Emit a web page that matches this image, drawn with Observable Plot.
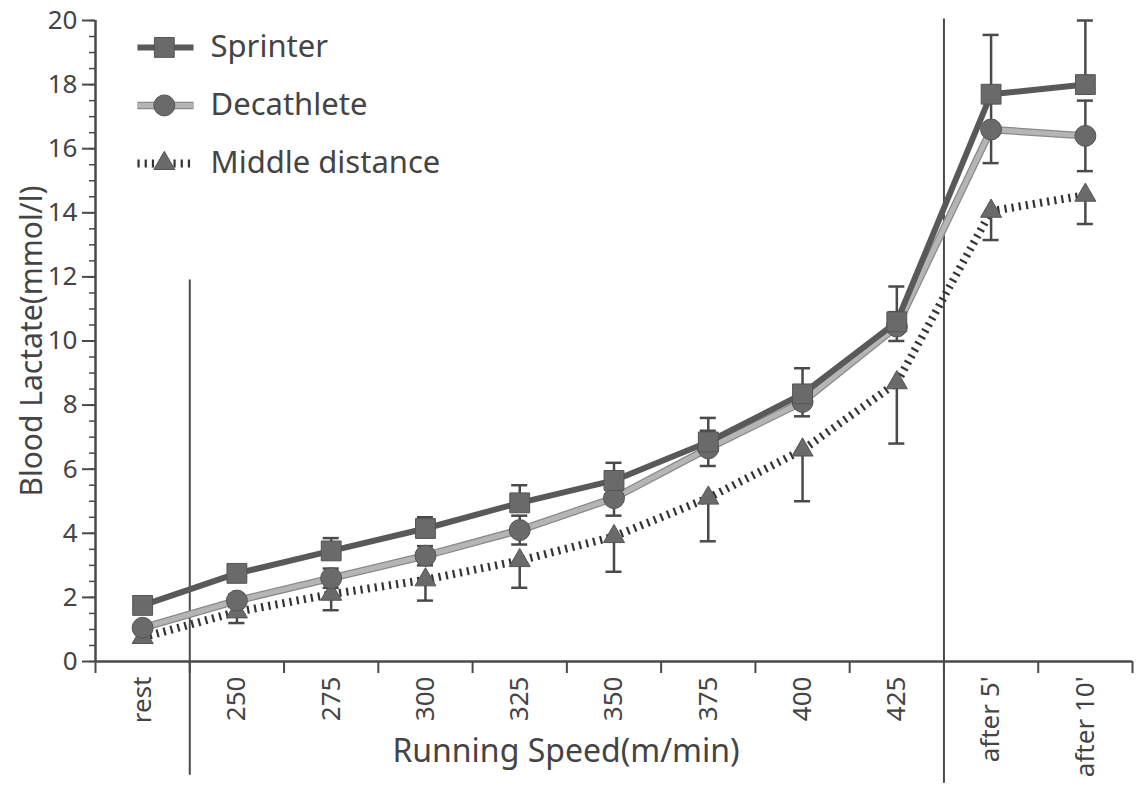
<!DOCTYPE html>
<html>
<head>
<meta charset="utf-8">
<script src="https://cdn.jsdelivr.net/npm/d3@7"></script>
<script src="https://cdn.jsdelivr.net/npm/@observablehq/plot@0.6"></script>
<style>
  html, body { margin: 0; padding: 0; background: #fff; }
  #chart svg { display: block; }
</style>
</head>
<body>
<div id="chart"></div>
<script>
// ---- data ----
const categories = ["rest", "250", "275", "300", "325", "350", "375", "400", "425", "after 5'", "after 10'"];
const sprinter     = [1.75, 2.75, 3.45, 4.15, 4.95, 5.65, 6.85, 8.35, 10.6, 17.7, 18.0];
const sprinterSD   = [0.1, 0.12, 0.4, 0.35, 0.55, 0.55, 0.75, 0.8, 1.1, 1.85, 2.0];
const decathlete   = [1.05, 1.9, 2.6, 3.3, 4.1, 5.1, 6.65, 8.1, 10.45, 16.6, 16.4];
const decathleteSD = [0.15, 0.2, 0.3, 0.3, 0.45, 0.55, 0.55, 0.45, 0.45, 1.05, 1.1];
const middle       = [0.75, 1.55, 2.1, 2.55, 3.15, 3.9, 5.1, 6.6, 8.7, 14.05, 14.55];
const middleSD     = [0.15, 0.35, 0.5, 0.65, 0.85, 1.1, 1.35, 1.6, 1.9, 0.9, 0.9];
const seriesNames  = ["Sprinter", "Decathlete", "Middle distance"];
const yMajorTicks  = d3.range(0, 21, 2);
const yMinorTicks  = d3.range(0, 20.01, 0.5);
const separatorsAfter = ["rest", "425"];

// ---- derived rows ----
const idx = categories.map((c, i) => i);
const rows = (vals, sd, name) => vals.map((v, i) => ({i, cat: categories[i], v, sd: sd[i], name}));
const sp = rows(sprinter, sprinterSD, "Sprinter");
const de = rows(decathlete, decathleteSD, "Decathlete");
const mi = rows(middle, middleSD, "Middle distance");
const boundaries = d3.range(-0.5, categories.length, 1);
const sepX = separatorsAfter.map(c => categories.indexOf(c) + 0.5);

const dark = "#595959";
const markFill = "#6a6a6a";
const axisColor = "#4a4a4a";
const textColor = "#444";
const font = "'Noto Sans', sans-serif";

// legend rows
const legend = seriesNames.map((name, k) => ({name, k, y: 19.16 - k * 1.81}));
const lx1 = -0.055, lx2 = 0.54, lmx = 0.23, ltx = 0.72;
const dashed = {stroke: "#333", strokeWidth: 8, strokeDasharray: "2.2,5", strokeLinecap: "butt", strokeLinejoin: "miter"};
const cap = 0.085;

const chart = Plot.plot({
  width: 1139,
  height: 786,
  marginLeft: 95,
  marginRight: 7,
  marginTop: 20,
  marginBottom: 125,
  style: {fontFamily: font, color: axisColor, background: "#fff"},
  x: {type: "linear", domain: [-0.5, categories.length - 0.5], axis: null},
  y: {domain: [0, 20], axis: null},
  marks: [
    // separators
    Plot.ruleX([sepX[0]], {y1: 11.9, y2: -3.55, stroke: axisColor, strokeWidth: 2}),
    Plot.ruleX([sepX[1]], {y1: 20.05, y2: -3.8, stroke: axisColor, strokeWidth: 2}),
    // axes
    Plot.ruleX([-0.5], {y1: 0, y2: 20, stroke: axisColor, strokeWidth: 2.5}),
    Plot.ruleY([0], {stroke: axisColor, strokeWidth: 2.5}),
    Plot.axisY(yMinorTicks, {tickSize: 6, tickFormat: () => "", stroke: axisColor, strokeWidth: 1.5, label: null}),
    Plot.axisY(yMajorTicks, {tickSize: 13, tickPadding: 5, fontSize: 26, stroke: axisColor, strokeWidth: 2, label: null, fill: textColor}),
    Plot.axisX(boundaries, {tickSize: 12, tickFormat: () => "", stroke: axisColor, strokeWidth: 2, label: null}),
    Plot.axisX(idx, {tickSize: 0, tickPadding: 15, tickRotate: -90, fontSize: 26, tickFormat: i => categories[i], label: null, fill: textColor}),
    Plot.text(["Running Speed(m/min)"], {frameAnchor: "bottom", textAnchor: "middle", lineAnchor: "middle", dx: -48, dy: 90, fontSize: 32, fill: textColor}),
    Plot.text(["Blood Lactate(mmol/l)"], {frameAnchor: "left", textAnchor: "middle", lineAnchor: "middle", dx: -63, rotate: -90, fontSize: 30, fill: textColor}),

    // lines
    Plot.line(mi, {x: "i", y: "v", ...dashed}),
    Plot.line(de, {x: "i", y: "v", stroke: "#8a8a8a", strokeWidth: 7.5}),
    Plot.line(de, {x: "i", y: "v", stroke: "url(#stipple)", strokeWidth: 5}),
    Plot.line(sp, {x: "i", y: "v", stroke: dark, strokeWidth: 6}),

    // error bars
    Plot.ruleX(mi, {x: "i", y1: "v", y2: d => d.v - d.sd, stroke: axisColor, strokeWidth: 2.5}),
    Plot.ruleY(mi, {y: d => d.v - d.sd, x1: d => d.i - cap, x2: d => d.i + cap, stroke: axisColor, strokeWidth: 2.5}),
    Plot.ruleX(de, {x: "i", y1: d => d.v - d.sd, y2: d => d.v + d.sd, stroke: axisColor, strokeWidth: 2.5}),
    Plot.ruleY(de, {y: d => d.v - d.sd, x1: d => d.i - cap, x2: d => d.i + cap, stroke: axisColor, strokeWidth: 2.5}),
    Plot.ruleY(de, {y: d => d.v + d.sd, x1: d => d.i - cap, x2: d => d.i + cap, stroke: axisColor, strokeWidth: 2.5}),
    Plot.ruleX(sp, {x: "i", y1: "v", y2: d => d.v + d.sd, stroke: axisColor, strokeWidth: 2.5}),
    Plot.ruleY(sp, {y: d => d.v + d.sd, x1: d => d.i - cap, x2: d => d.i + cap, stroke: axisColor, strokeWidth: 2.5}),

    // markers
    Plot.dot(mi, {x: "i", y: "v", symbol: "triangle", r: 7.8, fill: markFill, stroke: "#555", strokeWidth: 1}),
    Plot.dot(de, {x: "i", y: "v", symbol: "circle", r: 10.5, fill: markFill, stroke: "#555", strokeWidth: 1}),
    Plot.dot(sp, {x: "i", y: "v", symbol: "square", r: 11.2, fill: markFill, stroke: "#555", strokeWidth: 1}),

    // legend
    Plot.link(legend.filter(d => d.k === 0), {x1: lx1, x2: lx2, y1: "y", y2: "y", stroke: dark, strokeWidth: 6}),
    Plot.link(legend.filter(d => d.k === 1), {x1: lx1, x2: lx2, y1: "y", y2: "y", stroke: "#8a8a8a", strokeWidth: 7.5}),
    Plot.link(legend.filter(d => d.k === 1), {x1: lx1, x2: lx2, y1: "y", y2: "y", stroke: "url(#stipple)", strokeWidth: 5}),
    Plot.link(legend.filter(d => d.k === 2), {x1: lx1, x2: lx2 - 0.03, y1: "y", y2: "y", ...dashed}),
    Plot.dot(legend.filter(d => d.k === 0), {x: lmx, y: "y", symbol: "square", r: 11.2, fill: markFill, stroke: "#555", strokeWidth: 1}),
    Plot.dot(legend.filter(d => d.k === 1), {x: lmx, y: "y", symbol: "circle", r: 10.5, fill: markFill, stroke: "#555", strokeWidth: 1}),
    Plot.dot(legend.filter(d => d.k === 2), {x: lmx, y: "y", symbol: "triangle", r: 7.8, fill: markFill, stroke: "#555", strokeWidth: 1}),
    Plot.text(legend, {x: ltx, y: "y", text: "name", textAnchor: "start", fontSize: 31, fill: textColor})
  ]
});

// stipple pattern for the Decathlete line
const ns = "http://www.w3.org/2000/svg";
const defs = document.createElementNS(ns, "defs");
const pat = document.createElementNS(ns, "pattern");
pat.setAttribute("id", "stipple");
pat.setAttribute("patternUnits", "userSpaceOnUse");
pat.setAttribute("width", "2");
pat.setAttribute("height", "2");
const mk = (x, y, f) => { const r = document.createElementNS(ns, "rect"); r.setAttribute("x", x); r.setAttribute("y", y); r.setAttribute("width", 1); r.setAttribute("height", 1); r.setAttribute("fill", f); pat.appendChild(r); };
mk(0, 0, "#8c8c8c"); mk(1, 1, "#8c8c8c"); mk(1, 0, "#dedede"); mk(0, 1, "#dedede");
defs.appendChild(pat);
chart.insertBefore(defs, chart.firstChild);

document.getElementById("chart").appendChild(chart);
</script>
</body>
</html>
